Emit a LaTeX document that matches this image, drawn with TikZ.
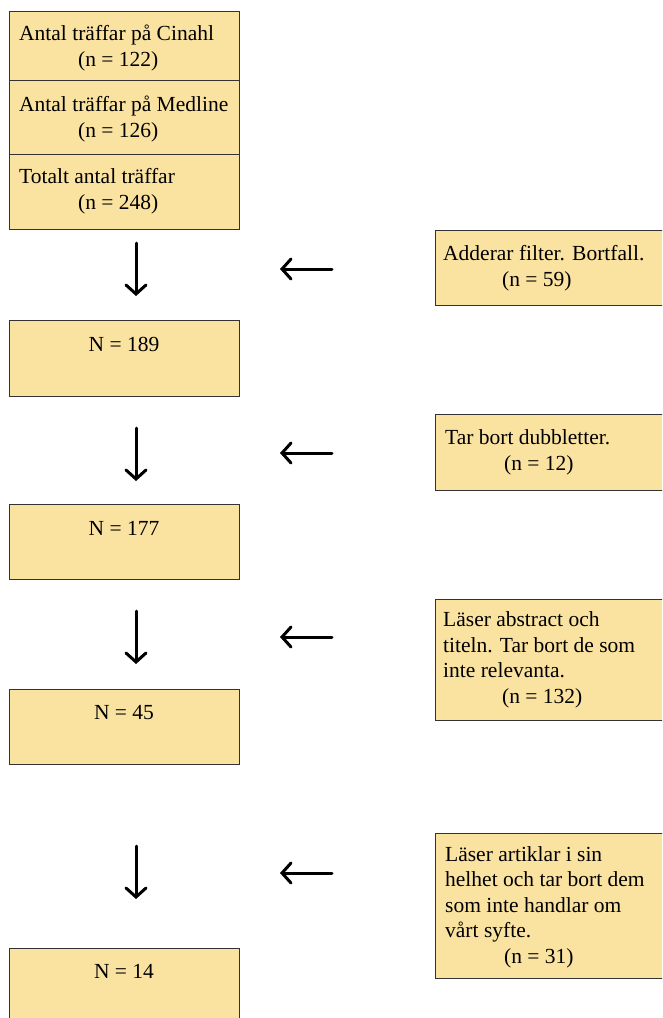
\documentclass[tikz,border=0pt]{standalone}
\usepackage{fontspec}
\setmainfont{Liberation Serif}
\usetikzlibrary{arrows.meta,positioning}
\definecolor{Sand}{HTML}{FAE2A0}
\definecolor{Edge}{HTML}{333333}
\newcommand{\nval}[1]{\\\hspace*{59pt}(n = #1)}

\begin{document}
\begin{tikzpicture}[x=1pt,y=-1pt,
    box/.style={draw=Edge,fill=Sand,line width=1.4pt,inner sep=0pt,anchor=north west},
    txt/.style={anchor=base west,align=left,inner sep=0pt,font=\fontsize{21.5}{25.5}\selectfont},
    flow/.style={line width=3pt,line cap=round,-{Straight Barb[length=9pt,width=20pt,line cap=round]}}]
  \useasboundingbox (0,0) rectangle (662,1018);
  \clip (0,0) rectangle (662,1018);
  % search hits (text placed by its last line)
  \node[box,minimum width=230pt,minimum height=69pt] (cinahl) at (9,11) {};
  \node[box,minimum width=230pt,minimum height=74pt] (medline) at (9,80) {};
  \node[box,minimum width=230pt,minimum height=75pt] (total) at (9,154) {};
  \node[txt] (cinahltxt) at (19,66) {Antal träffar på Cinahl\nval{122}};
  \node[txt] (medlinetxt) at (19,137) {Antal träffar på Medline\nval{126}};
  \node[txt] (totaltxt) at (19,209) {Totalt antal träffar\nval{248}};
  % remaining
  \node[box,minimum width=230pt,minimum height=76pt] (n189) at (9,320) {};
  \node[box,minimum width=230pt,minimum height=75pt] (n177) at (9,504) {};
  \node[box,minimum width=230pt,minimum height=75pt] (n45) at (9,689) {};
  \node[box,minimum width=230pt,minimum height=80pt] (n14) at (9,948) {};
  \node[txt,anchor=base] (n189txt) at (124,351) {N = 189};
  \node[txt,anchor=base] (n177txt) at (124,535) {N = 177};
  \node[txt,anchor=base] (n45txt) at (124,719) {N = 45};
  \node[txt,anchor=base] (n14txt) at (124,978) {N = 14};
  % removed
  \node[box,minimum width=240pt,minimum height=75pt] (filter) at (435,230) {};
  \node[box,minimum width=240pt,minimum height=76pt] (dubl) at (435,414) {};
  \node[box,minimum width=240pt,minimum height=121pt] (abstr) at (435,599) {};
  \node[box,minimum width=240pt,minimum height=145pt] (helhet) at (435,833) {};
  \node[txt] (filtertxt) at (443,286) {Adderar filter. Bortfall.\nval{59}};
  \node[txt] (dubltxt) at (445,470) {Tar bort dubbletter.\nval{12}};
  \node[txt] (abstrtxt) at (443,703) {Läser abstract och\\titeln. Tar bort de som\\inte relevanta.\nval{132}};
  \node[txt] (helhettxt) at (445,963) {Läser artiklar i sin\\helhet och tar bort dem\\som inte handlar om\\vårt syfte.\nval{31}};
  % arrows
  \foreach \ys/\yl [count=\i] in {243/269,428/453,611/637,846/873}{
    \coordinate (down\i) at (136,\ys);
    \coordinate (downend\i) at (136,\ys+53);
    \coordinate (left\i) at (332,\yl);
    \coordinate (leftend\i) at (280,\yl);
    \draw[flow] (down\i) -- (downend\i);
    \draw[flow] (left\i) -- (leftend\i);
  }
\end{tikzpicture}
\end{document}
